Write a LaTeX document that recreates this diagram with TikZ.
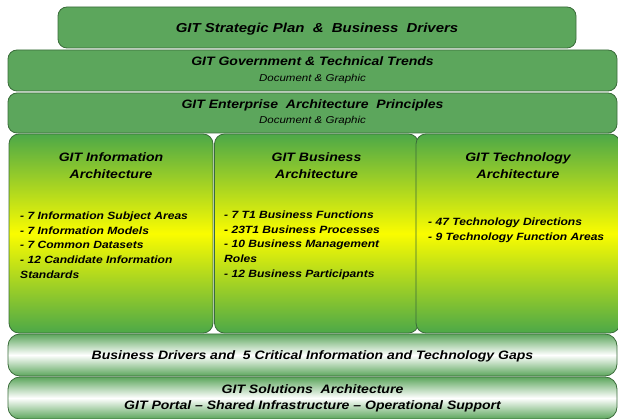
\documentclass[tikz,border=0pt]{standalone}
\usepackage{fontspec}
\setmainfont{Liberation Sans}[FakeStretch=1.15]
\usetikzlibrary{positioning}

\definecolor{gitgreen}{RGB}{92,166,92}
\definecolor{gitedge}{RGB}{58,108,58}
\definecolor{colgreen}{RGB}{76,168,72}
\definecolor{colyellow}{RGB}{250,252,0}

\newcommand{\docsub}{{\mdseries\itshape\fontsize{10}{12}\selectfont Document \& Graphic}}

\tikzset{
  band/.style={draw=gitedge, fill=gitgreen, line width=0.8pt, rounded corners=9pt,
    inner sep=0pt, align=center, text=black,
    font=\bfseries\itshape\fontsize{12.2}{16}\selectfont},
  glossband/.style={band, fill=none, top color=gitgreen, bottom color=gitgreen,
    middle color=white, rounded corners=12pt},
  archcol/.style={draw=gitedge, line width=0.8pt, rounded corners=10pt,
    top color=colgreen, bottom color=colgreen, middle color=colyellow,
    minimum width=204pt, minimum height=199pt, inner sep=0pt},
  coltitle/.style={align=center, inner sep=0pt,
    font=\bfseries\itshape\fontsize{12.2}{17}\selectfont},
  collist/.style={align=left, inner sep=0pt, anchor=north west,
    font=\bfseries\itshape\fontsize{10.5}{14.7}\selectfont}
}

\begin{document}
\begin{tikzpicture}[x=1pt,y=-1pt]
\useasboundingbox (0,0) rectangle (618,419);

% top bands
\node[band, minimum width=518pt, minimum height=41pt, text depth=0pt] (plan) at (317,27.5)
  {\fontsize{13}{15}\selectfont GIT Strategic Plan \ \& \ Business \ Drivers};
\node[band, minimum width=609pt, minimum height=41pt] (trends) at (312.5,70.5)
  {GIT Government \& Technical Trends\\[0pt]\docsub};
\node[band, minimum width=609pt, minimum height=40pt] (principles) at (312.5,113)
  {GIT Enterprise \ Architecture \ Principles\\[-1pt]\docsub};

% the three architecture columns
\node[archcol] (info) at (111,233.5) {};
\node[archcol] (business) at (316.5,233.5) {};
\node[archcol] (tech) at (518,233.5) {};

\node[coltitle, below=18.5pt of info.north] (infotitle) {GIT Information\\Architecture};
\node[coltitle, below=18.5pt of business.north] (bustitle) {GIT Business\\Architecture};
\node[coltitle, below=18.5pt of tech.north] (techtitle) {GIT Technology\\Architecture};

\node[collist] (infolist) at (20,211.5) {- 7 Information Subject Areas\\- 7 Information Models\\
  - 7 Common Datasets\\- 12 Candidate Information\\Standards};
\node[collist] (buslist) at (224,210.5) {- 7 T1 Business Functions\\- 23T1 Business Processes\\
  - 10 Business Management\\Roles\\- 12 Business Participants};
\node[collist] (techlist) at (428,217.5) {- 47 Technology Directions\\- 9 Technology Function Areas};

% bottom bands
\node[glossband, minimum width=609pt, minimum height=42pt, text depth=0pt] (gaps) at (312.5,355)
  {Business Drivers and \ 5 Critical Information and Technology Gaps};
\node[glossband, minimum width=609pt, minimum height=42pt] (solutions) at (312.5,398)
  {GIT Solutions \ Architecture\\[0pt]GIT Portal -- Shared Infrastructure -- Operational Support};

\end{tikzpicture}
\end{document}
